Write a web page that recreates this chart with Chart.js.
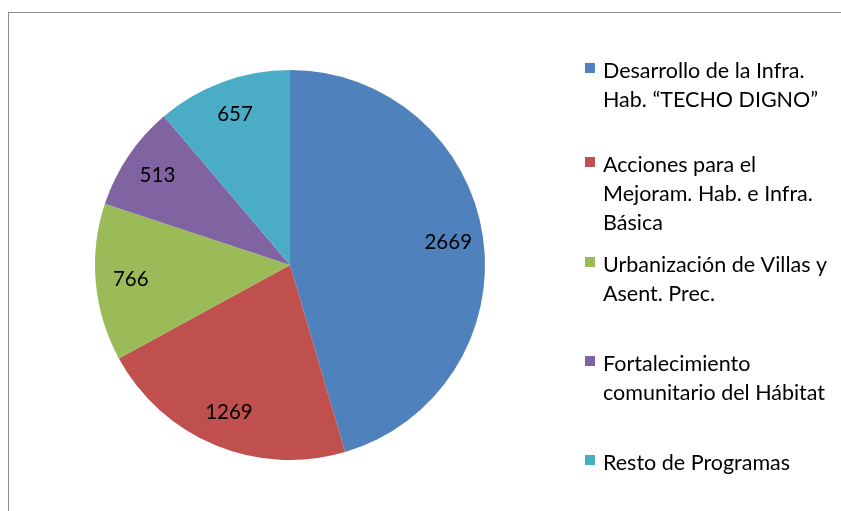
<!DOCTYPE html>
<html><head><meta charset="utf-8">
<script src="https://cdn.jsdelivr.net/npm/chart.js@4"></script>
<style>
html,body{margin:0;padding:0;background:#fff;overflow:hidden}
#wrap{position:relative;width:841px;height:511px;overflow:hidden}
#frame{position:absolute;left:8px;top:12px;width:900px;height:600px;border:1px solid #8c8c8c;box-sizing:border-box}
canvas{position:absolute;left:0;top:0}
</style></head><body>
<div id="wrap"><div id="frame"></div><canvas id="c" width="841" height="511"></canvas></div>
<script>
const categories = [
  ["Desarrollo de la Infra.", "Hab. “TECHO DIGNO”"],
  ["Acciones para el", "Mejoram. Hab. e Infra.", "Básica"],
  ["Urbanización de Villas y", "Asent. Prec."],
  ["Fortalecimiento", "comunitario del Hábitat"],
  ["Resto de Programas"]
];
const values = [2669, 1269, 766, 513, 657];
const colors = ['#4F81BD', '#C0504D', '#9BBB59', '#8064A2', '#4BACC6'];
const legendBaselines = [78, 172, 272, 371, 470];

const LEGEND_FONT = '21.5px Lato, "Liberation Sans", sans-serif';
const LABEL_FONT = '20.5px Lato, "Liberation Sans", sans-serif';

const labelPlugin = {
  id: 'sliceLabels',
  afterDatasetsDraw(chart) {
    const ctx = chart.ctx;
    const meta = chart.getDatasetMeta(0);
    ctx.save();
    ctx.font = LABEL_FONT;
    ctx.fillStyle = '#000';
    ctx.textAlign = 'center';
    ctx.textBaseline = 'middle';
    meta.data.forEach((arc, i) => {
      const p = arc.getProps(['x', 'y', 'startAngle', 'endAngle', 'outerRadius'], true);
      const mid = (p.startAngle + p.endAngle) / 2;
      const r = p.outerRadius * 0.82;
      ctx.fillText(String(values[i]), p.x + Math.cos(mid) * r, p.y + Math.sin(mid) * r);
    });
    ctx.restore();
  }
};

const legendPlugin = {
  id: 'sideLegend',
  afterDraw(chart) {
    const ctx = chart.ctx;
    ctx.save();
    ctx.font = LEGEND_FONT;
    ctx.textAlign = 'left';
    ctx.textBaseline = 'alphabetic';
    const lineH = 29;
    categories.forEach((lines, i) => {
      const base = legendBaselines[i];
      ctx.fillStyle = colors[i];
      ctx.fillRect(585, base - 15, 10, 10);
      ctx.fillStyle = '#000';
      lines.forEach((t, j) => ctx.fillText(t, 603, base + j * lineH));
    });
    ctx.restore();
  }
};

new Chart(document.getElementById('c'), {
  type: 'pie',
  data: {
    labels: categories.map(l => l.join(' ')),
    datasets: [{ data: values, backgroundColor: colors, borderWidth: 0 }]
  },
  options: {
    responsive: false,
    animation: false,
    layout: { padding: { left: 95, top: 70, right: 356, bottom: 51 } },
    plugins: { legend: { display: false }, tooltip: { enabled: false } }
  },
  plugins: [labelPlugin, legendPlugin]
});
</script>
</body></html>
